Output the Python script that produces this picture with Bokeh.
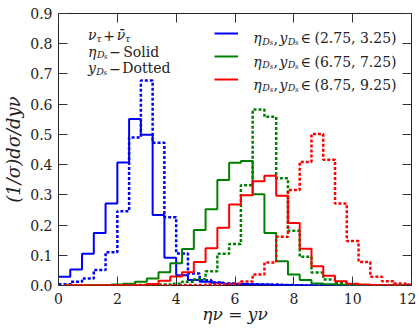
import numpy as np
from bokeh.plotting import figure
from bokeh.models import (Range1d, FixedTicker, LinearAxis, Label, Legend,
                          LegendItem, NumeralTickFormatter)
from bokeh.embed import file_html
from bokeh.resources import INLINE

# ---------------- data ----------------
BIN_W = 0.4
EDGES_BLUE = np.round(np.arange(0.0, 12.0 + 1e-9, BIN_W), 2)   # 31 edges, 30 bins
EDGES_GR = np.round(np.arange(0.2, 12.2 + 1e-9, BIN_W), 2)     # 31 edges, 30 bins

blue_eta = [0.029, 0.053, 0.105, 0.174, 0.271, 0.407, 0.551, 0.499, 0.233, 0.092,
            0.034, 0.018, 0.012, 0.009, 0.006, 0.005, 0.004, 0.003, 0.002, 0.002,
            0.001, 0.001, 0, 0, 0, 0, 0, 0, 0, 0]
blue_y = [0.004, 0.012, 0.023, 0.051, 0.110, 0.246, 0.490, 0.678, 0.472, 0.226,
          0.106, 0.040, 0.017, 0.010, 0.007, 0.005, 0.004, 0.003, 0.003, 0.002,
          0.001, 0, 0, 0, 0, 0, 0, 0, 0, 0]
green_eta = [0, 0, 0.001, 0.002, 0.003, 0.006, 0.012, 0.023, 0.044, 0.074,
             0.121, 0.184, 0.252, 0.349, 0.406, 0.412, 0.302, 0.174, 0.080, 0.036,
             0.018, 0.007, 0.004, 0.002, 0.001, 0.001, 0, 0, 0, 0]
green_y = [0, 0, 0, 0.001, 0.001, 0.001, 0.002, 0.002, 0.003, 0.006,
           0.012, 0.021, 0.047, 0.105, 0.137, 0.332, 0.582, 0.558, 0.355, 0.181,
           0.095, 0.043, 0.020, 0.008, 0.003, 0.001, 0, 0, 0, 0]
red_eta = [0, 0, 0, 0, 0, 0, 0.001, 0.005, 0.016, 0.030,
           0.044, 0.078, 0.123, 0.191, 0.268, 0.299, 0.345, 0.363, 0.297, 0.207,
           0.122, 0.064, 0.032, 0.014, 0.006, 0.003, 0.002, 0.001, 0, 0]
red_y = [0, 0, 0, 0, 0, 0, 0, 0.001, 0.001, 0.001,
         0.002, 0.002, 0.003, 0.004, 0.006, 0.013, 0.036, 0.076, 0.161, 0.316,
         0.409, 0.501, 0.416, 0.271, 0.147, 0.078, 0.029, 0.014, 0.007, 0.003]

X_TICKS = [0, 2, 4, 6, 8, 10, 12]
Y_TICKS = [0.0, 0.1, 0.2, 0.3, 0.4, 0.5, 0.6, 0.7, 0.8, 0.9]
RANGES = ["(2.75, 3.25)", "(6.75, 7.25)", "(8.75, 9.25)"]
X_LABEL = "ην = yν"
Y_LABEL = "(1/σ)dσ/dyν"

BLUE, GREEN, RED = "#0000ff", "#008000", "#ff0000"
SERIF = "DejaVu Serif"
TXT = "#222222"

# ---------------- figure ----------------
p = figure(frame_width=353, frame_height=272, output_backend="svg",
           toolbar_location=None, x_range=Range1d(0, 12), y_range=Range1d(0, 0.9),
           min_border_left=53, min_border_right=5, min_border_top=13,
           min_border_bottom=40)
p.grid.visible = False
p.outline_line_color = "#222222"
p.outline_line_width = 1
p.background_fill_color = "white"
p.border_fill_color = "white"


def style_axis(ax, ticks, show_labels):
    ax.ticker = FixedTicker(ticks=ticks)
    ax.major_tick_in = 9
    ax.major_tick_out = 0
    ax.minor_tick_line_color = None
    ax.major_tick_line_color = "#333333"
    ax.axis_line_color = None
    if show_labels:
        ax.major_label_text_font = SERIF
        ax.major_label_text_font_size = "14px"
        ax.major_label_text_color = TXT
    else:
        ax.major_label_overrides = {t: "" for t in ticks}
        ax.major_label_standoff = 0


style_axis(p.xaxis[0], X_TICKS, True)
p.xaxis[0].major_label_standoff = 7
p.xaxis[0].axis_label = X_LABEL
p.xaxis[0].axis_label_text_font = SERIF
p.xaxis[0].axis_label_text_font_style = "italic"
p.xaxis[0].axis_label_text_font_size = "17px"
p.xaxis[0].axis_label_text_color = TXT
p.xaxis[0].axis_label_standoff = -3

style_axis(p.yaxis[0], Y_TICKS, True)
p.yaxis[0].formatter = NumeralTickFormatter(format="0.0")
p.yaxis[0].major_label_standoff = 6
p.yaxis[0].axis_label = Y_LABEL
p.yaxis[0].axis_label_text_font = SERIF
p.yaxis[0].axis_label_text_font_style = "italic"
p.yaxis[0].axis_label_text_font_size = "18px"
p.yaxis[0].axis_label_text_color = TXT
p.yaxis[0].axis_label_standoff = 3

top = LinearAxis()
style_axis(top, X_TICKS, False)
p.add_layout(top, "above")
right = LinearAxis()
style_axis(right, Y_TICKS, False)
p.add_layout(right, "right")


def hist(edges, vals, color, dotted):
    xs = list(edges)
    ys = list(vals) + [vals[-1]]
    if dotted:
        return p.step(xs, ys, mode="after", line_color=color, line_width=2.5,
                      line_dash="3 2")
    return p.step(xs, ys, mode="after", line_color=color, line_width=2)


r_be = hist(EDGES_BLUE, blue_eta, BLUE, False)
hist(EDGES_BLUE, blue_y, BLUE, True)
r_ge = hist(EDGES_GR, green_eta, GREEN, False)
hist(EDGES_GR, green_y, GREEN, True)
r_re = hist(EDGES_GR, red_eta, RED, False)
hist(EDGES_GR, red_y, RED, True)

# legend: location is the bottom-left corner, measured from the frame's bottom-left
legend = Legend(items=[LegendItem(label="\u00a0", renderers=[r]) for r in (r_be, r_ge, r_re)],
                location=(156, 196), glyph_width=24, glyph_height=20,
                label_height=20, label_width=1, spacing=3, padding=0, margin=0,
                border_line_color=None, background_fill_alpha=0,
                label_standoff=0, label_text_font_size="10px")
p.add_layout(legend)

# ---------------- texts inside the frame (positions in reference image pixels) ----------------
FL, FR, FT, FB = 53.3, 406.0, 13.3, 285.3


def seg(text, xi, yi, size, italic=False):
    xd = (xi - FL) / (FR - FL) * 12.0
    yd = (FB - yi) / (FB - FT) * 0.9
    p.add_layout(Label(x=xd, y=yd, text=text, text_font=SERIF,
                       text_font_size=f"{size}px",
                       text_font_style="italic" if italic else "normal",
                       text_baseline="alphabetic", text_align="left",
                       text_color=TXT))


# top-left annotation
seg("ν", 82.7, 35, 14, True)
seg("τ", 91.0, 38, 9.5, True)
seg("+", 98.0, 35, 14)
seg("ν̄", 111.5, 35, 14, True)
seg("τ", 119.8, 38, 9.5, True)

seg("η", 82.7, 51.5, 14, True)
seg("D", 91.7, 54.5, 9.5, True)
seg("s", 98.8, 56.5, 7, True)
seg("−", 104.0, 51.5, 14)
seg("Solid", 118.0, 51.5, 14)

seg("y", 82.7, 68, 14, True)
seg("D", 91.0, 71, 9.5, True)
seg("s", 98.2, 73, 7, True)
seg("−", 104.0, 68, 14)
seg("Dotted", 117.0, 68, 14)

# legend texts
for i, rng in enumerate(RANGES):
    b = 38.0 + 23.3 * i
    seg("η", 248.0, b, 14, True)
    seg("D", 257.0, b + 3, 9.5, True)
    seg("s", 264.3, b + 5, 7, True)
    seg(",", 268.0, b, 14)
    seg("y", 274.0, b, 14, True)
    seg("D", 282.3, b + 3, 9.5, True)
    seg("s", 289.6, b + 5, 7, True)
    seg("∈", 295.0, b, 14)
    seg(rng, 309.0, b, 14)

open("out.html", "w").write(file_html(p, INLINE))
